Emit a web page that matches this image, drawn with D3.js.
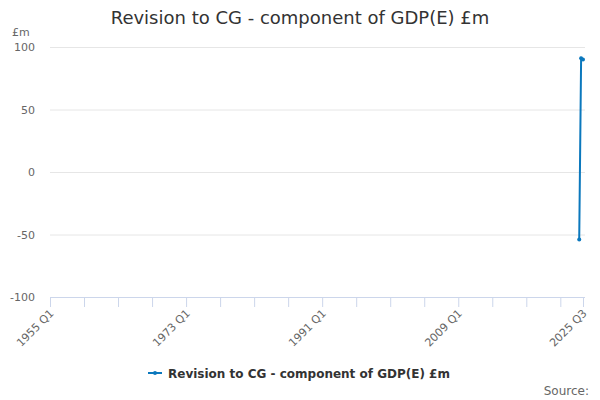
<!DOCTYPE html>
<html><head><meta charset="utf-8">
<script src="https://cdn.jsdelivr.net/npm/d3@7"></script>
<style>
body{margin:0;background:#fff;}
text{font-family:"DejaVu Sans",sans-serif;}
</style></head>
<body><svg id="c" width="600" height="400"></svg>
<script>
const title = "Revision to CG - component of GDP(E) £m";
const seriesName = "Revision to CG - component of GDP(E) £m";
const startYear = 1955, endYear = 2025, endQuarter = 3;
const tickLabels = ["1955 Q1","1973 Q1","1991 Q1","2009 Q1","2025 Q3"];
const yTicks = [-100,-50,0,50,100];
const dataQuarters = ["2025 Q1","2025 Q2","2025 Q3"];
const dataValues = [-54, 91, 90];

const categories = [];
for (let y = startYear; y <= endYear; y++) {
  for (let q = 1; q <= 4; q++) {
    if (y === endYear && q > endQuarter) break;
    categories.push(y + " Q" + q);
  }
}
// ticks every 18 quarters plus the last category
const tickCats = categories.filter((c,i)=> i % 18 === 0 || i === categories.length-1);

const svg = d3.select("#c");
const L = 50, R = 583, T = 47, B = 297;
const x = d3.scalePoint().domain(categories).range([L, R]);
const y = d3.scaleLinear().domain([-100,100]).range([B, T]);

svg.append("text").attr("x",300).attr("y",24).attr("text-anchor","middle")
  .attr("font-size",18).attr("fill","#333").text(title);
svg.append("text").attr("x",12).attr("y",36).attr("font-size",11).attr("fill","#666").text("£m");

// grid
svg.append("g").selectAll("line").data(yTicks.filter(d=>d!==-100)).join("line")
  .attr("x1",L).attr("x2",R+2).attr("y1",d=>y(d)+0.5).attr("y2",d=>y(d)+0.5)
  .attr("stroke","#e6e6e6");
svg.append("g").selectAll("text").data(yTicks).join("text")
  .attr("x",35).attr("y",d=>y(d)+4).attr("text-anchor","end")
  .attr("font-size",11).attr("fill","#666").text(d=>d);

// x axis
const xAxis = d3.axisBottom(x).tickValues(tickCats).tickSize(10).tickFormat(d=>tickLabels.includes(d)?d:"");
const gx = svg.append("g").attr("transform",`translate(0,${B})`).call(xAxis);
gx.select(".domain").attr("stroke","#ccd6eb").attr("d",`M${L},0.5H${R+2}`);
gx.selectAll(".tick line").attr("stroke","#ccd6eb");
gx.selectAll(".tick text").attr("font-size",11).attr("fill","#666")
  .attr("font-family","DejaVu Sans, sans-serif")
  .attr("text-anchor","end").attr("dy",null).attr("y",0)
  .attr("transform","translate(4,17) rotate(-45)");

// series
const pts = dataQuarters.map((q,i)=>({q, v:dataValues[i]}));
const color = "#0b78bd";
svg.append("path").datum(pts)
  .attr("d", d3.line().x(d=>x(d.q)).y(d=>y(d.v)))
  .attr("fill","none").attr("stroke",color).attr("stroke-width",2);
svg.append("g").selectAll("circle").data(pts).join("circle")
  .attr("cx",d=>x(d.q)).attr("cy",d=>y(d.v)).attr("r",2).attr("fill",color);

// legend
const lg = svg.append("g").attr("transform","translate(148,373)");
lg.append("line").attr("x1",0).attr("x2",14).attr("y1",0).attr("y2",0).attr("stroke",color).attr("stroke-width",2);
lg.append("circle").attr("cx",7).attr("cy",0).attr("r",2).attr("fill",color);
lg.append("text").attr("x",20).attr("y",4.5).attr("font-size",12).attr("font-weight","bold").attr("fill","#333").text(seriesName);

svg.append("text").attr("x",589).attr("y",395).attr("text-anchor","end")
  .attr("font-size",12).attr("fill","#666").text("Source:");
</script></body></html>
